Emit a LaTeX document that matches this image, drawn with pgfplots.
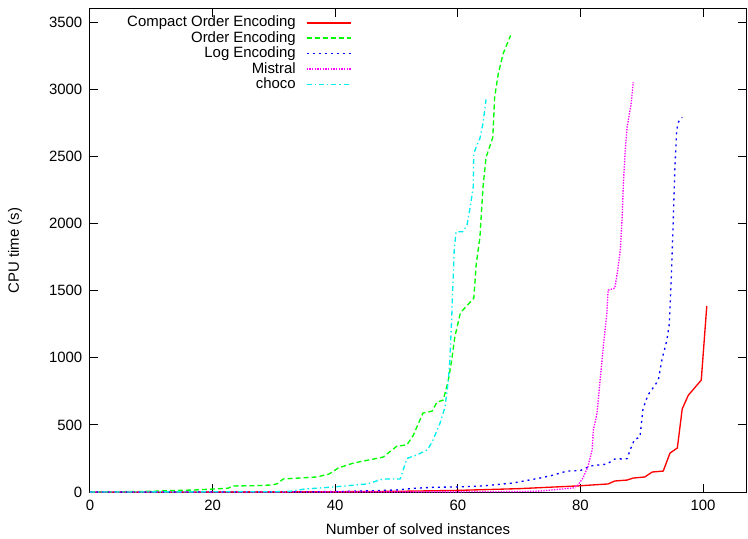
\documentclass[border=0pt]{standalone}
\usepackage{fontspec}
\setmainfont{Liberation Sans}
\usepackage{pgfplots}
\pgfplotsset{compat=1.18}
\usetikzlibrary{calc}
\definecolor{gpRed}{HTML}{FF0000}
\definecolor{gpGreen}{HTML}{00FF00}
\definecolor{gpBlue}{HTML}{0000FF}
\definecolor{gpMagenta}{HTML}{FF00FF}
\definecolor{gpCyan}{HTML}{00EEEE}
\newcommand{\gpfont}{\fontsize{11.2}{13}\selectfont}

\begin{document}
\begin{tikzpicture}
\begin{axis}[
  scale only axis, width=492pt, height=362.25pt,
  xmin=0, xmax=107, ymin=0, ymax=3600,
  xtick={0,20,...,100}, ytick={0,500,...,3500},
  tick pos=both, xticklabel pos=left, yticklabel pos=left,
  tick align=inside, major tick length=6pt,
  axis line style={line width=0.75pt},
  every tick/.style={black, line width=0.75pt},
  /pgf/number format/1000 sep={},
  /pgf/number format/assume math mode=true,
  tick label style={font=\gpfont},
  yticklabel style={xshift=-2.3pt},
  xticklabel style={yshift=-2.3pt},
  xlabel={Number of solved instances}, ylabel={CPU time (s)},
  label style={font=\gpfont},
  xlabel style={at={(axis description cs:0.5,-0.0766)}, anchor=center},
  ylabel style={at={(axis description cs:-0.1143,0.5)}, anchor=center},
  legend plot pos=right, legend cell align=right,
  legend style={draw=none, fill=none, font=\gpfont,
    at={(0.399,0.986)}, anchor=north east, inner sep=0pt,
    row sep=1.6pt, /tikz/column sep=7.5pt,
    nodes={inner sep=0pt, text height=8pt, text depth=2pt}},
  legend image code/.code={\draw[#1, line width=1.3pt] (0pt,0pt) -- (33pt,0pt);},
  every axis plot/.append style={line width=1pt, line join=round},
]
\addplot[color=gpRed, solid] coordinates {
 (0,0) (30,1) (40,2) (50,5) (60,12) (70,25) (79.4,45) (84.5,60) (85.6,82)
 (87.6,89) (88.6,104) (90.5,112) (91.7,149) (93.5,156) (94.6,290) (95.8,328)
 (96.6,620) (97.6,722) (98.5,770) (99.7,834) (100.6,1385)};
\addlegendentry{Compact Order Encoding}
\addplot[color=gpGreen, dash pattern=on 3.75pt off 2.25pt] coordinates {
 (0,0) (5,2) (10,5) (13,10) (17,15) (20,22) (22.5,28) (23.3,45) (27,47)
 (29.4,52) (30.5,60) (31.5,97) (37,112) (39,134) (40.5,179) (43,216)
 (47.8,260) (50,340) (51.7,352) (52.7,420) (54.3,588) (55.8,603) (56.6,670)
 (57.6,685) (58.4,820) (59,983) (59.5,1154) (60.4,1333) (60.8,1355)
 (62.6,1444) (63,1700) (63.6,1899) (64.1,2271) (64.6,2494) (65.7,2643)
 (66,2941) (66.6,3120) (67.4,3269) (68.6,3403)};
\addlegendentry{Order Encoding}
\addplot[color=gpBlue, dash pattern=on 1.5pt off 3pt] coordinates {
 (0,0) (30,1) (40,3) (45,8) (50,15) (53,28) (56,35) (60,38) (64,45) (69,67)
 (73.4,104) (75.5,125) (77.8,156) (80,160) (81.6,194) (84.3,208) (85.6,246)
 (87.6,248) (88.1,313) (88.8,390) (89.7,410) (90.2,620) (91,722) (92.2,800)
 (92.7,834) (93.3,990) (94.1,1132) (94.5,1258) (94.8,1579) (95.1,1973)
 (95.4,2420) (95.7,2700) (96,2760) (96.6,2792)};
\addlegendentry{Log Encoding}
\addplot[color=gpMagenta, dash pattern=on 1pt off 1pt] coordinates {
 (0,0) (60,1) (70,3) (73.4,7) (78.8,30) (79.6,52) (80.4,104) (81.2,186)
 (81.9,313) (82.1,462) (82.7,588) (83.2,834) (83.7,1072) (84.3,1333)
 (84.5,1504) (85.6,1519) (86,1631) (86.5,1802) (86.8,2048) (87,2300)
 (87.3,2546) (87.6,2718) (88.3,2904) (88.6,3053)};
\addlegendentry{Mistral}
\addplot[color=gpCyan, dash pattern=on 3.75pt off 2.25pt on 1pt off 2.25pt] coordinates {
 (0,0) (30,2) (32.6,5) (35,22) (39.6,37) (45.2,60) (47.8,97) (50.6,97)
 (51.7,250) (53.3,276) (55,313) (55.8,372) (57.1,514) (57.9,633) (58.4,811)
 (58.7,983) (59,1303) (59.4,1800) (59.7,1940) (60.8,1940) (61.5,1990)
 (62,2122) (62.5,2271) (62.6,2524) (63.1,2584) (63.6,2636) (64.1,2748)
 (64.6,2926)};
\addlegendentry{choco}
\end{axis}
\pgfresetboundingbox
\path ($(current axis.south west)+(-67.5pt,-34.5pt)$) rectangle ($(current axis.north east)+(1.5pt,6.75pt)$);
\end{tikzpicture}
\end{document}
